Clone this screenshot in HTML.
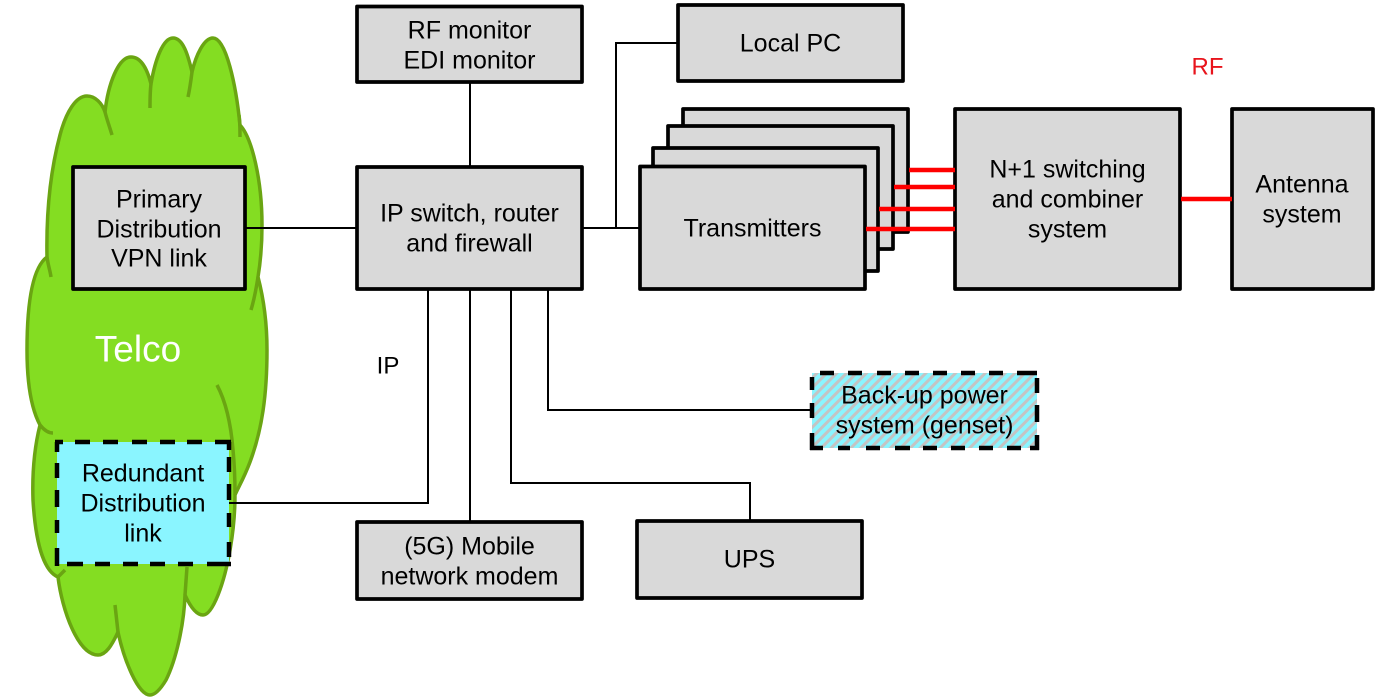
<!DOCTYPE html>
<html><head><meta charset="utf-8"><style>
html,body{margin:0;padding:0;background:#fff}
svg{display:block}
text{font-family:"Liberation Sans",Arial,sans-serif;font-size:25px;fill:#000;text-anchor:middle}
.b{fill:#d9d9d9;stroke:#000;stroke-width:3.7;stroke-linejoin:round}
.l{fill:none;stroke:#000;stroke-width:2}
.r{fill:none;stroke:#f00;stroke-width:4.5}
.c{fill:none;stroke:#6aa512;stroke-width:3.5;stroke-linecap:butt}
.d{fill:none;stroke:#000;stroke-width:4.5}
</style></head><body>
<svg width="1400" height="700" viewBox="0 0 1400 700" xmlns="http://www.w3.org/2000/svg">
<defs>
<pattern id="h" width="7" height="7" patternUnits="userSpaceOnUse" patternTransform="rotate(45)">
<rect width="7" height="7" fill="#8af5ff"/><rect width="3" height="7" fill="#c4c4c4"/>
</pattern>
</defs>
<path fill="#84dd22" stroke="#6aa512" stroke-width="3.5" stroke-linejoin="round" d="M47,257 C46,205 52,165 60,135 C66,112 76,96 87,96 C95,96 102,103 105,112 C108,85 118,57 131,57 C142,57 148,72 151,84 C155,60 163,38 173,38 C183,38 188,55 192,72 C196,55 204,38 213,38 C226,38 236,85 240,125 C252,138 262,180 262,225 C262,250 260,265 258,277 C264,300 267,325 267,350 C267,395 262,430 250,462 C244,478 238,488 235,495 C235,530 228,570 218,595 C212,610 207,615 203,615 C196,615 190,606 185,595 C184,625 176,660 166,680 C160,690 155,695 150,695 C138,695 124,660 118,632 C112,645 106,655 98,655 C78,655 62,610 58,577 C46,572 36,550 33,500 C32,470 35,445 40,425 C32,410 27,385 27,350 C27,305 32,268 47,257 Z"/>
<path class="c" d="M47,257 C48,265 50,270 51,277"/>
<path class="c" d="M105,112 C107,120 110,128 112,135"/>
<path class="c" d="M151,84 C150,92 150,100 150,108"/>
<path class="c" d="M192,72 C191,80 190,88 188,97"/>
<path class="c" d="M239,115 C240,122 240,130 240,137"/>
<path class="c" d="M258,277 C256,290 254,300 251,310"/>
<path class="c" d="M217,385 C226,402 231,425 233,450 C235,470 235,485 235,495"/>
<path class="c" d="M40,425 C44,430 48,433 53,433"/>
<path class="c" d="M187,567 L185,595"/>
<path class="c" d="M115,605 L118,632"/>
<path class="c" d="M58,577 L65,570"/>

<path class="l" d="M245,228 H357"/>
<path class="l" d="M582,228 H639"/>
<path class="l" d="M616,228 V43 H678"/>
<path class="l" d="M470,82 V167"/>
<path class="l" d="M428,289 V503 H229"/>
<path class="l" d="M470,289 V522"/>
<path class="l" d="M511,289 V483 H750 V521"/>
<path class="l" d="M548,289 V410 H812"/>

<rect class="b" x="357" y="6.500" width="225" height="75.500"/>
<rect class="b" x="678" y="5" width="225" height="76"/>
<rect class="b" x="73" y="167" width="172" height="122"/>
<rect class="b" x="357" y="167" width="225" height="122"/>
<rect class="b" x="683" y="109" width="225" height="123"/>
<rect class="b" x="668" y="126" width="225" height="123"/>
<rect class="b" x="653" y="148" width="225" height="123"/>
<rect class="b" x="640" y="166.500" width="225" height="122.500"/>
<rect class="b" x="955" y="109" width="225" height="180"/>
<rect class="b" x="1232" y="109" width="141" height="180"/>
<rect class="b" x="357" y="522" width="225" height="77"/>
<rect class="b" x="637" y="521" width="225" height="77"/>

<rect x="57" y="442" width="172" height="122" fill="#8af5ff"/>
<path class="d" d="M55,442 H63 M75,442 H90 M103,442 H118 M132,442 H147 M160,442 H175 M187,442 H202 M215,442 H231
M57,442 V452 M57,463 V478 M57,490 V507 M57,520 V533 M57,548 V566
M67,564 H83 M95,564 H110 M123,564 H138 M150,564 H165 M178,564 H193 M207,564 H231
M229,442 V450 M229,457 V472 M229,484 V500 M229,513 V527 M229,542 V557"/>

<rect x="812" y="373" width="225" height="75" fill="url(#h)"/>
<path class="d" d="M820,373 H834 M848,373 H862 M877,373 H891 M905,373 H919 M933,373 H947 M961,373 H975 M989,373 H1003 M1017,373 H1037
M812,377 V390 M812,403 V418 M812,433 V450
M810,448 H823 M838,448 H850 M866,448 H880 M895,448 H910 M923,448 H937 M951,448 H965 M979,448 H993 M1007,448 H1021 M1030,448 H1039
M1037,378 V393 M1037,405 V422 M1037,435 V450"/>

<path class="r" d="M909,170 H955"/>
<path class="r" d="M894,187 H955"/>
<path class="r" d="M879,209 H955"/>
<path class="r" d="M866,229 H955"/>
<path class="r" d="M1181,199 H1232"/>

<g transform="translate(0,-0.5)">
<text x="469.500" y="39">RF monitor</text>
<text x="469.500" y="69">EDI monitor</text>
<text x="790.500" y="52">Local PC</text>
<text x="1207.500" y="75" style="font-size:24px;fill:#e8141c">RF</text>
<text x="159" y="208">Primary</text>
<text x="159" y="238">Distribution</text>
<text x="159" y="267">VPN link</text>
<text x="469.500" y="222">IP switch, router</text>
<text x="469.500" y="252">and firewall</text>
<text x="752.500" y="237">Transmitters</text>
<text x="1067.500" y="178">N+1 switching</text>
<text x="1067.500" y="208">and combiner</text>
<text x="1067.500" y="238">system</text>
<text x="1302" y="193">Antenna</text>
<text x="1302" y="223">system</text>
<text x="138" y="362" style="font-size:37px;fill:#fff">Telco</text>
<text x="388" y="374" style="font-size:24px">IP</text>
<text x="924.500" y="404">Back-up power</text>
<text x="924.500" y="434">system (genset)</text>
<text x="143" y="482">Redundant</text>
<text x="143" y="512">Distribution</text>
<text x="143" y="542">link</text>
<text x="469.500" y="555">(5G) Mobile</text>
<text x="469.500" y="585">network modem</text>
<text x="749.500" y="568">UPS</text>
</g>
</svg>
</body></html>
